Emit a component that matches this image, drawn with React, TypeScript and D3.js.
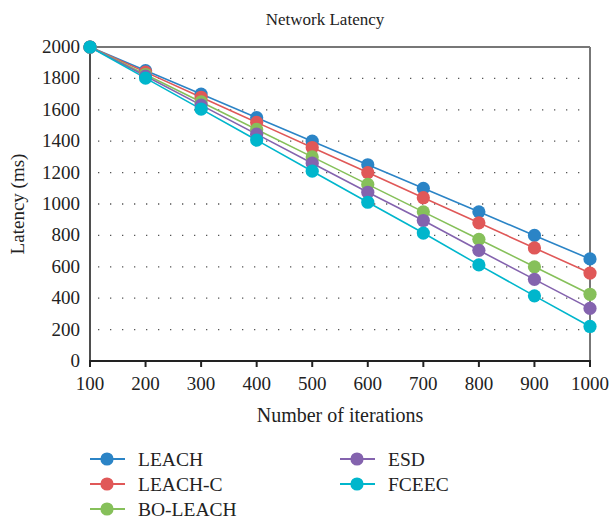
import React from "react";
import * as d3 from "d3";

const iterations = [100, 200, 300, 400, 500, 600, 700, 800, 900, 1000];
const seriesNames = ["LEACH", "LEACH-C", "BO-LEACH", "ESD", "FCEEC"];
const leach = [2000, 1850, 1700, 1550, 1400, 1250, 1100, 950, 800, 650];
const leachC = [2000, 1840, 1680, 1520, 1360, 1200, 1040, 880, 720, 560];
const boLeach = [2000, 1825, 1650, 1475, 1300, 1125, 950, 775, 600, 425];
const esd = [2000, 1815, 1630, 1445, 1260, 1075, 895, 705, 520, 335];
const fceec = [2000, 1802, 1604, 1407, 1209, 1011, 815, 612, 415, 220];
const colors = ["#2B84C6", "#E05858", "#86C05A", "#8463AE", "#00B6CC"];
const yTicks = [0, 200, 400, 600, 800, 1000, 1200, 1400, 1600, 1800, 2000];
const allValues = [leach, leachC, boLeach, esd, fceec];

const FONT = "'Liberation Serif', 'DejaVu Serif', serif";

export default function App() {
  const W = 609, H = 521;
  const left = 90, right = 590, top = 47, bottom = 361;
  const x = d3.scaleLinear().domain([100, 1000]).range([left, right]);
  const y = d3.scaleLinear().domain([0, 2000]).range([bottom, top]);
  const line = d3.line<number>().x((_, i) => x(iterations[i])).y((v) => y(v));

  const legend = [
    { col: 0, row: 0 }, { col: 0, row: 1 }, { col: 0, row: 2 },
    { col: 1, row: 0 }, { col: 1, row: 1 },
  ];

  return (
    <svg width={W} height={H} style={{ position: "absolute", left: 0, top: 0, background: "#fff" }} fontFamily={FONT}>
      <rect width={W} height={H} fill="#fff" />
      <text x={325} y={25} textAnchor="middle" fontSize={17} fill="#222">Network Latency</text>
      {/* grid */}
      {yTicks.filter((t) => t > 0 && t < 2000).map((t) => (
        <line key={t} x1={left + 8} x2={right - 2} y1={y(t)} y2={y(t)} stroke="#555" strokeWidth={1.3} strokeDasharray="1.3 10.7" />
      ))}
      {/* frame */}
      <line x1={left} x2={right} y1={top} y2={top} stroke="#777" strokeWidth={2} />
      <line x1={right} x2={right} y1={top} y2={bottom} stroke="#777" strokeWidth={2} />
      <line x1={left} x2={left} y1={top} y2={bottom} stroke="#222" strokeWidth={1.6} />
      <line x1={left - 1} x2={right + 1} y1={bottom} y2={bottom} stroke="#222" strokeWidth={2} />
      {iterations.map((t) => (
        <line key={t} x1={x(t)} x2={x(t)} y1={bottom} y2={bottom + 6} stroke="#222" strokeWidth={2} />
      ))}
      {/* y ticks */}
      {yTicks.map((t) => (
        <text key={t} x={left - 10} y={y(t) + 6} textAnchor="end" fontSize={19} fill="#222">{t}</text>
      ))}
      {iterations.map((t) => (
        <text key={t} x={x(t)} y={390} textAnchor="middle" fontSize={19} fill="#222">{t}</text>
      ))}
      <text x={340} y={422} textAnchor="middle" fontSize={20} fill="#222">Number of iterations</text>
      <text transform={`translate(24,${(top + bottom) / 2}) rotate(-90)`} textAnchor="middle" fontSize={19} fill="#222">Latency (ms)</text>
      {/* series */}
      {allValues.map((vals, si) => (
        <path key={si} d={line(vals) || ""} fill="none" stroke={colors[si]} strokeWidth={1.6} />
      ))}
      {allValues.map((vals, si) => (
        <g key={si}>
          {vals.map((v, i) => (
            <circle key={i} cx={x(iterations[i])} cy={y(v)} r={6.6} fill={colors[si]} />
          ))}
        </g>
      ))}
      {/* legend */}
      {seriesNames.map((name, i) => {
        const lx = legend[i].col === 0 ? 90 : 340;
        const ly = 459 + legend[i].row * 25;
        return (
          <g key={name}>
            <line x1={lx} x2={lx + 35} y1={ly} y2={ly} stroke={colors[i]} strokeWidth={2} />
            <circle cx={lx + 17} cy={ly} r={6.6} fill={colors[i]} />
            <text x={lx + 48} y={ly + 6.5} fontSize={19.5} fill="#222">{name}</text>
          </g>
        );
      })}
    </svg>
  );
}
